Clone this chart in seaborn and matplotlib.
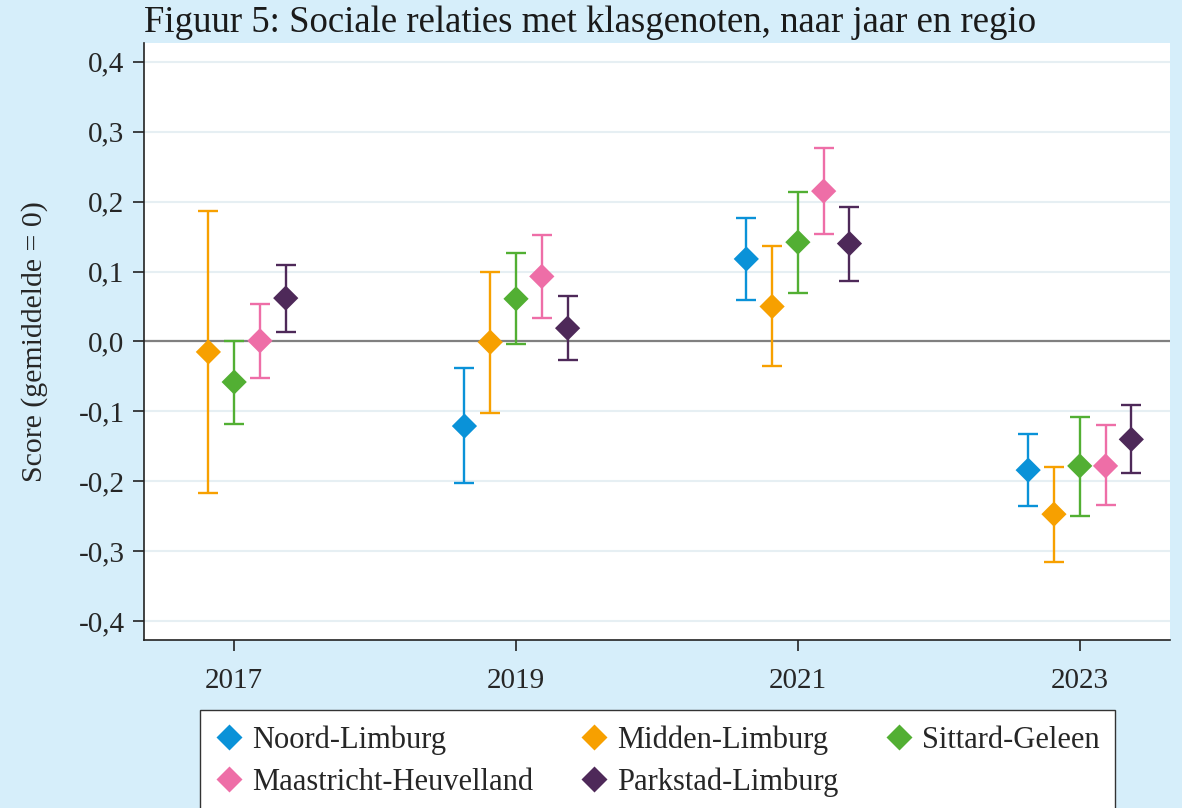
import numpy as np
import pandas as pd
import matplotlib
matplotlib.use("Agg")
import matplotlib.pyplot as plt
from matplotlib.ticker import FuncFormatter
import seaborn as sns

# data
years = [2017, 2019, 2021, 2023]
regions = ["Noord-Limburg", "Midden-Limburg", "Sittard-Geleen",
           "Maastricht-Heuvelland", "Parkstad-Limburg"]
colors = ["#0A92D8", "#F7A000", "#52AF33", "#EE6EA7", "#4E2959"]

# score per region, one value per year (None = no data)
noord_score = [None, -0.121, 0.118, -0.184]
noord_lo = [None, -0.203, 0.059, -0.236]
noord_hi = [None, -0.038, 0.176, -0.132]

midden_score = [-0.015, -0.001, 0.050, -0.247]
midden_lo = [-0.217, -0.102, -0.035, -0.315]
midden_hi = [0.187, 0.100, 0.136, -0.179]

sittard_score = [-0.058, 0.061, 0.142, -0.178]
sittard_lo = [-0.118, -0.003, 0.070, -0.249]
sittard_hi = [0.001, 0.127, 0.214, -0.108]

maastricht_score = [0.001, 0.093, 0.215, -0.178]
maastricht_lo = [-0.052, 0.033, 0.154, -0.234]
maastricht_hi = [0.054, 0.152, 0.276, -0.120]

parkstad_score = [0.062, 0.019, 0.140, -0.140]
parkstad_lo = [0.014, -0.027, 0.087, -0.188]
parkstad_hi = [0.109, 0.065, 0.192, -0.091]

scores = [noord_score, midden_score, sittard_score, maastricht_score, parkstad_score]
lows = [noord_lo, midden_lo, sittard_lo, maastricht_lo, parkstad_lo]
highs = [noord_hi, midden_hi, sittard_hi, maastricht_hi, parkstad_hi]

rows = []
for i, reg in enumerate(regions):
    for j, yr in enumerate(years):
        if scores[i][j] is None:
            continue
        rows.append({"regio": reg, "jaar": yr, "idx": i,
                     "score": scores[i][j], "lo": lows[i][j], "hi": highs[i][j]})
df = pd.DataFrame(rows)
dodge = 0.183
df["x"] = df["jaar"] + (df["idx"] - 2) * dodge

sns.set_style("white")
plt.rcParams["font.family"] = ["Liberation Serif", "DejaVu Serif"]

bg = "#D6EEFA"
fig = plt.figure(figsize=(11.82, 8.08), dpi=100, facecolor=bg)
ax = fig.add_axes([0.1218, 0.2079, 0.868, 0.739])

for y in np.arange(-0.4, 0.41, 0.1):
    ax.axhline(y, color="#E6EFF3", lw=1.5, zorder=0)
ax.axhline(0, color="#808080", lw=1.6, zorder=1)

palette = dict(zip(regions, colors))
for reg in regions:
    d = df[df["regio"] == reg]
    ax.errorbar(d["x"], d["score"], yerr=[d["score"] - d["lo"], d["hi"] - d["score"]],
                fmt="none", ecolor=palette[reg], elinewidth=1.7, capsize=7.5,
                capthick=1.7, zorder=2)

sns.scatterplot(data=df, x="x", y="score", hue="regio", hue_order=regions,
                palette=palette, marker="D", s=165, edgecolor="none",
                ax=ax, zorder=3, legend=True)


def comma_fmt(v, p):
    v = round(v, 1)
    if v == 0:
        return "0,0"
    return f"{v:.1f}".replace(".", ",")


ax.set_xlim(2016.36, 2023.64)
ax.set_ylim(-0.427, 0.427)
ax.set_xticks(years)
ax.set_yticks(np.round(np.arange(-0.4, 0.41, 0.1), 1))
ax.yaxis.set_major_formatter(FuncFormatter(comma_fmt))
ax.tick_params(axis="both", labelsize=21, length=8, width=1.2, direction="out",
               left=True, bottom=True, color="#222222")
ax.tick_params(axis="x", pad=12)
ax.tick_params(axis="y", pad=6)
ax.set_xlabel("")
ax.set_ylabel("Score (gemiddelde = 0)", fontsize=21.5, labelpad=22)

for side in ["top", "right"]:
    ax.spines[side].set_visible(False)
for side in ["left", "bottom"]:
    ax.spines[side].set_color("#222222")
    ax.spines[side].set_linewidth(1.2)

fig.text(0.122, 0.972, "Figuur 5: Sociale relaties met klasgenoten, naar jaar en regio",
         fontsize=26.5, ha="left", va="center", color="#1a1a1a")

handles, labels = ax.get_legend_handles_labels()
ax.get_legend().remove()
# matplotlib fills legend columns first; reorder so rows read like the original
order = [0, 3, 1, 4, 2]
leg = fig.legend([handles[k] for k in order], [labels[k] for k in order],
                 ncol=3, loc="upper center", bbox_to_anchor=(0.5563, 0.1213),
                 fontsize=22, frameon=True, fancybox=False, edgecolor="#333333",
                 facecolor="white", framealpha=1,
                 handletextpad=0.3, columnspacing=1.55, borderaxespad=0,
                 markerscale=1.0, handlelength=0.9, labelspacing=0.42,
                 borderpad=0.5)
leg.get_frame().set_linewidth(1.0)

fig.savefig("out.png", dpi=100, facecolor=bg)
